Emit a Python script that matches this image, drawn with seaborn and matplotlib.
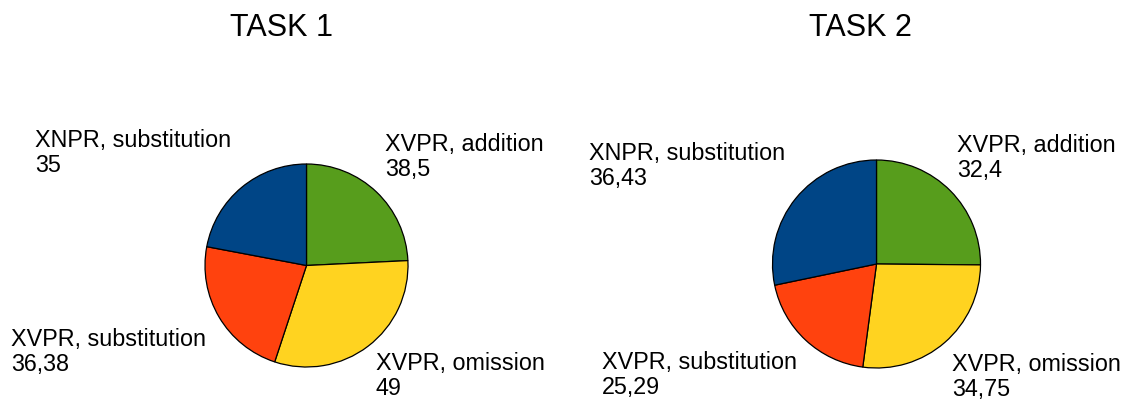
import matplotlib
matplotlib.use("Agg")
import matplotlib.pyplot as plt
import seaborn as sns

W, H = 1125, 407

# categories in drawing order (clockwise from 12 o'clock)
categories = ["XVPR, addition", "XVPR, omission", "XVPR, substitution", "XNPR, substitution"]
task1_values = [38.5, 49, 36.38, 35]
task2_values = [32.4, 34.75, 25.29, 36.43]
titles = ["TASK 1", "TASK 2"]
colors = ["#579D1C", "#FFD320", "#FF420E", "#004586"]

sns.set_theme(style="white")
plt.rcParams["font.family"] = ["Liberation Sans", "DejaVu Sans"]


def fmt(v):
    return f"{v:g}".replace(".", ",")


# pie centre / radius in pixels, title centre, label anchor (left x, first baseline y)
layouts = [
    dict(cx=306.5, cy=265.5, r=101.5, tx=281,
         labels=[(385, 151), (376, 370), (11, 346), (35, 147)]),
    dict(cx=876.5, cy=264.0, r=104.0, tx=860,
         labels=[(957, 152), (952, 371), (602, 369), (589, 160)]),
]

fig = plt.figure(figsize=(W / 100, H / 100), dpi=100)
pad = 1.02

for values, title, lay in zip([task1_values, task2_values], titles, layouts):
    rr = lay["r"] * pad
    ax = fig.add_axes([(lay["cx"] - rr) / W, (H - lay["cy"] - rr) / H,
                       2 * rr / W, 2 * rr / H])
    ax.pie(values, colors=colors, startangle=90, counterclock=False,
           wedgeprops=dict(edgecolor="black", linewidth=0.9))
    ax.set_xlim(-pad, pad)
    ax.set_ylim(-pad, pad)
    ax.set_axis_off()

    fig.text(lay["tx"] / W, 1 - 36 / H, title, ha="center", va="baseline",
             fontsize=22, color="black")

    for cat, val, (lx, ly) in zip(categories, values, lay["labels"]):
        fig.text(lx / W, 1 - ly / H, cat, ha="left", va="baseline",
                 fontsize=16.8, color="black")
        fig.text(lx / W, 1 - (ly + 25) / H, fmt(val), ha="left", va="baseline",
                 fontsize=16.8, color="black")

fig.savefig("out.png", dpi=100, facecolor="white")
